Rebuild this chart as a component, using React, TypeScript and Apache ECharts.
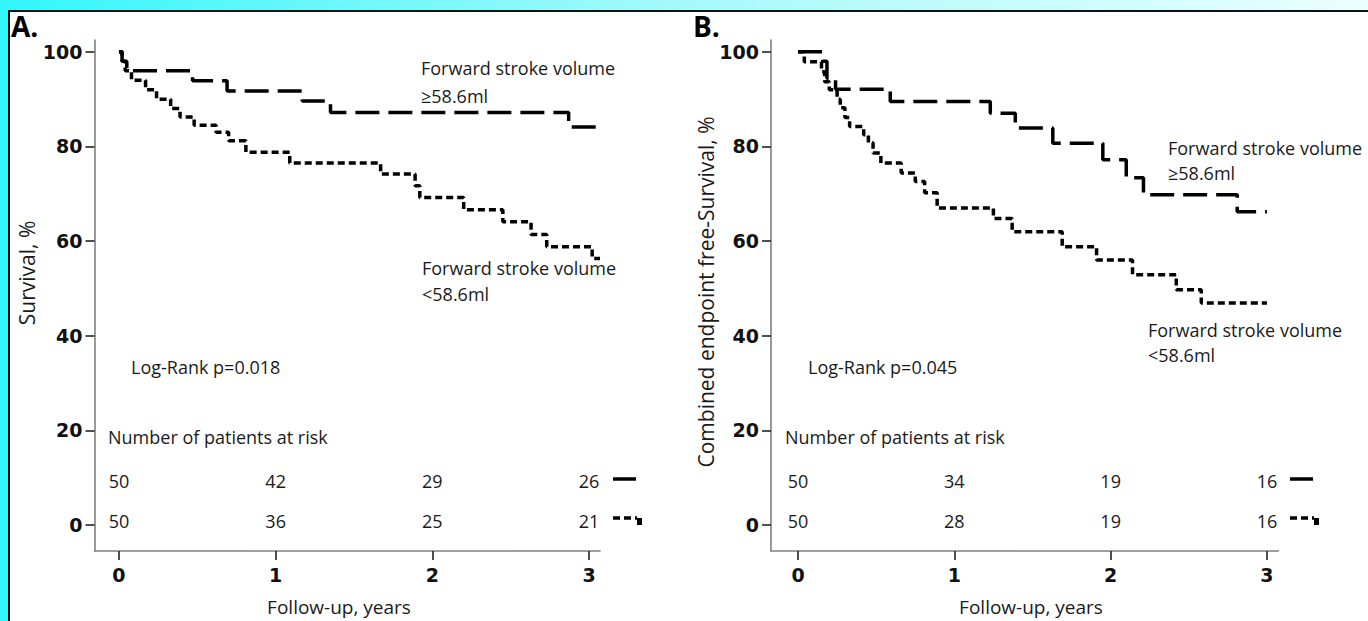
import React, { useEffect, useRef } from "react";
import * as echarts from "echarts";

// ---------- data ----------
const yearTicks = [0, 1, 2, 3];
const percentTicks = [0, 20, 40, 60, 80, 100];

// Panel A – survival, forward stroke volume >= 58.6 ml
const aHighTime = [0, 0.02, 0.05, 0.47, 0.69, 1.17, 1.35, 2.87, 3.07];
const aHighSurv = [100, 98, 96, 93.9, 91.7, 89.6, 87.2, 84.1, 84.1];
// Panel A – survival, forward stroke volume < 58.6 ml
const aLowTime = [0, 0.02, 0.04, 0.08, 0.17, 0.24, 0.33, 0.39, 0.48, 0.62, 0.7, 0.81, 1.09, 1.67, 1.89, 1.92, 2.2, 2.45, 2.63, 2.73, 3.02, 3.07];
const aLowSurv = [100, 98, 96, 94, 92, 90, 88, 86.2, 84.5, 83, 81.2, 78.8, 76.5, 74.2, 71.7, 69.2, 66.6, 64.1, 61.4, 58.8, 56.3, 56.3];

// Panel B – combined endpoint free survival, >= 58.6 ml
const bHighTime = [0, 0.16, 0.185, 0.24, 0.59, 1.23, 1.39, 1.63, 1.95, 2.1, 2.21, 2.81, 3.0];
const bHighSurv = [100, 98, 94.4, 92.1, 89.5, 87, 83.9, 80.7, 77.2, 73.4, 69.8, 66.2, 66.2];
// Panel B – combined endpoint free survival, < 58.6 ml
const bLowTime = [0, 0.04, 0.15, 0.17, 0.2, 0.25, 0.27, 0.3, 0.33, 0.42, 0.45, 0.48, 0.53, 0.66, 0.75, 0.81, 0.89, 1.25, 1.37, 1.69, 1.91, 2.14, 2.42, 2.58, 3.0];
const bLowSurv = [100, 97.9, 95.8, 93.7, 92, 90, 88.2, 86.1, 84.2, 82.5, 80.8, 78.6, 76.5, 74.4, 72.6, 70.2, 67, 64.8, 62, 58.8, 56, 52.9, 49.7, 46.9, 46.9];

// Number of patients at risk
const aRiskHigh = [50, 42, 29, 26];
const aRiskLow = [50, 36, 25, 21];
const bRiskHigh = [50, 34, 19, 16];
const bRiskLow = [50, 28, 19, 16];

const groupHigh = "Forward stroke volume ≥58.6ml";
const groupLow = "Forward stroke volume <58.6ml";

// ---------- helpers ----------
const TEXT_FONT = "'Open Sans', 'Noto Sans', sans-serif";
const TICK_FONT = "'DejaVu Sans', sans-serif";
const RISK_ROW_Y = [9.3, 0.8];

const zip = (t: number[], s: number[]) => t.map((v, i) => [v, s[i]]);

function xAxisFor(gridIndex: number, min: number, max: number) {
  return {
    gridIndex,
    type: "value",
    min,
    max,
    axisLine: { show: true, onZero: false, lineStyle: { color: "#808080", width: 1.6 } },
    axisTick: { show: true, customValues: yearTicks, length: 9, lineStyle: { color: "#222", width: 1.6 } },
    axisLabel: {
      customValues: yearTicks,
      margin: 14,
      fontFamily: TICK_FONT,
      fontSize: 19,
      fontWeight: "bold",
      color: "#111",
    },
    splitLine: { show: false },
  };
}

function yAxisFor(gridIndex: number) {
  return {
    gridIndex,
    type: "value",
    min: -5.5,
    max: 102.5,
    axisLine: { show: true, onZero: false, lineStyle: { color: "#808080", width: 1.6 } },
    axisTick: { show: true, customValues: percentTicks, length: 9, lineStyle: { color: "#222", width: 1.6 } },
    axisLabel: {
      customValues: percentTicks,
      margin: 12,
      fontFamily: TICK_FONT,
      fontSize: 19,
      fontWeight: "bold",
      color: "#111",
    },
    splitLine: { show: false },
  };
}

function kmSeries(name: string, idx: number, t: number[], s: number[], dash: number[]) {
  return {
    name,
    type: "line",
    xAxisIndex: idx,
    yAxisIndex: idx,
    step: "end",
    symbol: "none",
    clip: false,
    data: zip(t, s),
    lineStyle: { color: "#000", width: 3.5, type: dash, cap: "butt" },
  };
}

function riskSeries(idx: number, counts: number[], row: number) {
  return {
    type: "scatter",
    xAxisIndex: idx,
    yAxisIndex: idx,
    silent: true,
    symbolSize: 1,
    itemStyle: { color: "#fff", opacity: 1 },
    emphasis: { disabled: true },
    data: counts.map((c, i) => [yearTicks[i], RISK_ROW_Y[row], c]),
    label: {
      show: true,
      position: "inside",
      formatter: (p: any) => String(p.value[2]),
      fontFamily: TEXT_FONT,
      fontSize: 18,
      color: "#1a1a1a",
      opacity: 1,
    },
  };
}

function txt(text: string, x: number, y: number, extra: any = {}) {
  return {
    type: "text",
    x,
    y,
    silent: true,
    ...extra,
    style: {
      text,
      fontFamily: TEXT_FONT,
      fontSize: 18,
      fill: "#1a1a1a",
      verticalAlign: "middle",
      align: "left",
      ...(extra.style || {}),
    },
  };
}

function legendMarks(x: number) {
  return [
    { type: "line", silent: true, shape: { x1: x, y1: 479, x2: x + 23, y2: 479 }, style: { stroke: "#000", lineWidth: 3.5 } },
    { type: "line", silent: true, shape: { x1: x, y1: 518, x2: x + 24, y2: 518 }, style: { stroke: "#000", lineWidth: 3.5, lineDash: [7, 4] } },
    { type: "rect", silent: true, shape: { x: x + 24, y: 518, width: 5, height: 7 }, style: { fill: "#000" } },
  ];
}

export default function App() {
  const ref = useRef<HTMLDivElement>(null);

  useEffect(() => {
    document.body.style.margin = "0";
    if (!ref.current) return;
    const chart = echarts.init(ref.current, undefined, { renderer: "svg" });

    const option: any = {
      animation: false,
      backgroundColor: "#ffffff",
      grid: [
        { left: 94.5, top: 40, width: 505.5, height: 511, containLabel: false, outerBoundsMode: "none" },
        { left: 771, top: 40, width: 507.5, height: 511, containLabel: false, outerBoundsMode: "none" },
      ],
      xAxis: [xAxisFor(0, -0.156, 3.07), xAxisFor(1, -0.173, 3.074)],
      yAxis: [yAxisFor(0), yAxisFor(1)],
      series: [
        kmSeries(groupHigh, 0, aHighTime, aHighSurv, [24, 9]),
        kmSeries(groupLow, 0, aLowTime, aLowSurv, [7, 4]),
        kmSeries(groupHigh, 1, bHighTime, bHighSurv, [24, 9]),
        kmSeries(groupLow, 1, bLowTime, bLowSurv, [7, 4]),
        riskSeries(0, aRiskHigh, 0),
        riskSeries(0, aRiskLow, 1),
        riskSeries(1, bRiskHigh, 0),
        riskSeries(1, bRiskLow, 1),
      ],
      graphic: [
        // frame
        {
          type: "rect",
          silent: true,
          shape: { x: 0, y: 0, width: 1368, height: 10 },
          style: {
            fill: new echarts.graphic.LinearGradient(0, 0, 1, 0, [
              { offset: 0, color: "#33f6fb" },
              { offset: 0.5, color: "#a6f9fb" },
              { offset: 1, color: "#eafffe" },
            ]),
          },
        },
        { type: "rect", silent: true, shape: { x: 0, y: 0, width: 8, height: 621 }, style: { fill: "#33f6fb" } },
        { type: "rect", silent: true, shape: { x: 8, y: 10, width: 1360, height: 2 }, style: { fill: "#111" } },
        { type: "rect", silent: true, shape: { x: 8, y: 10, width: 2, height: 611 }, style: { fill: "#111" } },

        // panel A
        txt("A.", 11, 26, { style: { fontSize: 28, fontWeight: "bold", fill: "#000" } }),
        txt("Survival, %", 27, 273, { rotation: Math.PI / 2, style: { align: "center", fontSize: 21 } }),
        txt("Follow-up, years", 339, 607, { style: { align: "center", fontSize: 19 } }),
        txt("Forward stroke volume", 421, 68),
        txt("≥58.6ml", 421, 96),
        txt("Forward stroke volume", 422, 268),
        txt("<58.6ml", 422, 294),
        txt("Log-Rank p=0.018", 131, 367),
        txt("Number of patients at risk", 108, 437),
        ...legendMarks(613),

        // panel B
        txt("B.", 693, 26, { style: { fontSize: 28, fontWeight: "bold", fill: "#000" } }),
        txt("Combined endpoint free-Survival, %", 706, 292, { rotation: Math.PI / 2, style: { align: "center", fontSize: 21 } }),
        txt("Follow-up, years", 1031, 607, { style: { align: "center", fontSize: 19 } }),
        txt("Forward stroke volume", 1168, 148),
        txt("≥58.6ml", 1168, 173),
        txt("Forward stroke volume", 1148, 330),
        txt("<58.6ml", 1148, 355),
        txt("Log-Rank p=0.045", 808, 367),
        txt("Number of patients at risk", 785, 437),
        ...legendMarks(1290),
      ],
    };

    chart.setOption(option);
    return () => chart.dispose();
  }, []);

  return <div ref={ref} style={{ width: 1368, height: 621 }} />;
}
